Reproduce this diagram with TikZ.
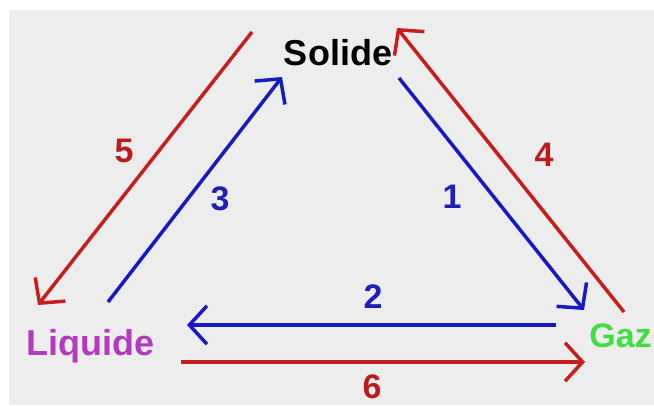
\documentclass[tikz,border=0pt]{standalone}
\usepackage{fontspec}
\setmainfont{Liberation Sans}
\usepackage{tikz}
\usetikzlibrary{arrows.meta, positioning, calc}
\usepackage{xcolor}

\definecolor{bggray}{RGB}{237,237,237}
\definecolor{flowblue}{RGB}{24,24,196}
\definecolor{flowred}{RGB}{198,30,30}
\definecolor{numred}{RGB}{185,28,28}
\definecolor{numblue}{RGB}{30,30,185}
\definecolor{liqpurple}{RGB}{178,58,190}
\definecolor{gazgreen}{RGB}{64,222,64}

\begin{document}
\begin{tikzpicture}[
  x=1pt, y=-1pt,
  >={Straight Barb[angle=95:26pt]},
  % State labels
  statenode/.style={
    inner sep=0pt, anchor=base, font=\fontsize{36}{40}\selectfont\bfseries
  },
  % Transition numbers
  numnode/.style={
    inner sep=0pt, font=\fontsize{34}{38}\selectfont\bfseries
  },
  % Arrow styles
  blueflow/.style={line width=3.5pt, ->, color=flowblue},
  redflow/.style={line width=3.5pt, ->, color=flowred}
]

% === BACKGROUND ===
\useasboundingbox (0,0) rectangle (654,405);
\fill[white] (0,0) rectangle (654,405);
\fill[bggray] (9,10) rectangle (654,405);

% === STATES ===
\node[statenode, text=black] (solide) at (338,65) {Solide};
\node[statenode, text=liqpurple] (liquide) at (90,355) {Liquide};
\node[statenode, anchor=base east, text=gazgreen,
  font=\fontsize{34}{38}\selectfont\bfseries] (gaz) at (652,347) {Gaz};

% === ARROW END POINTS ===
\coordinate (s1) at (399,78);  \coordinate (g1) at (584,310);
\coordinate (g2) at (556,325); \coordinate (l2) at (187,325);
\coordinate (l3) at (108,302); \coordinate (s3) at (282,77);
\coordinate (g4) at (624,312); \coordinate (s4) at (397,28);
\coordinate (s5) at (252,32);  \coordinate (l5) at (38,305);
\coordinate (l6) at (181,362); \coordinate (g6) at (585,362);

% === TRANSITIONS ===
\draw[blueflow] (s1) -- (g1);
\draw[blueflow] (g2) -- (l2);
\draw[blueflow] (l3) -- (s3);
\draw[redflow] (g4) -- (s4);
\draw[redflow] (s5) -- (l5);
\draw[redflow] (l6) -- (g6);

% === NUMBERS ===
\node[numnode, text=numblue] (n1) at (452,197) {1};
\node[numnode, text=numblue] (n2) at (373,297) {2};
\node[numnode, text=numblue] (n3) at (220,199) {3};
\node[numnode, text=numred] (n4) at (544,155) {4};
\node[numnode, text=numred] (n5) at (124,151) {5};
\node[numnode, text=numred] (n6) at (372,387) {6};

\end{tikzpicture}
\end{document}
